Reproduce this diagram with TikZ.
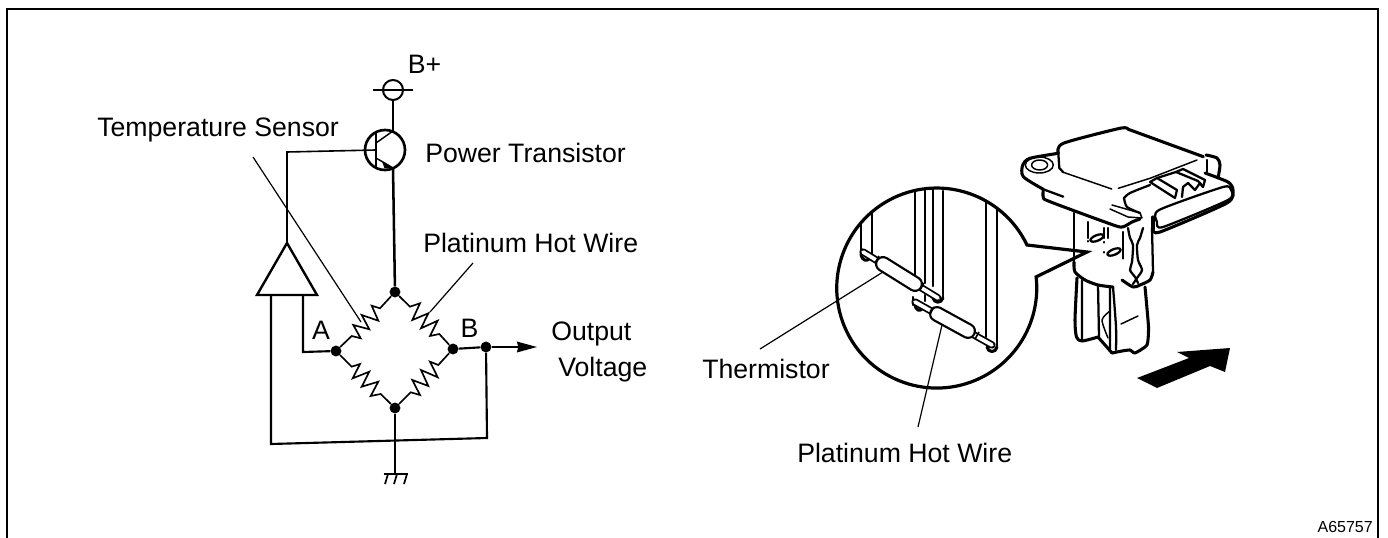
\documentclass[tikz,border=0pt]{standalone}
\usepackage{fontspec}
\setmainfont{Liberation Sans}
\usetikzlibrary{arrows.meta,calc}
\tikzset{
  wire/.style={line width=1.6pt,line join=miter},
  thinl/.style={line width=0.9pt},
  dotn/.style={circle,fill=black,inner sep=0pt,minimum size=8.2pt},
  lbl/.style={font=\fontsize{20}{24}\selectfont,inner sep=0pt},
  ink/.style={line width=1.7pt,line join=round,line cap=round},
  inkthin/.style={line width=1.1pt,line join=round,line cap=round},
  inkthick/.style={line width=2.3pt,line join=round,line cap=round},
  cv/.style={smooth,tension=0.45}
}
\newcommand{\zz}[1]{\draw[line width=1.25pt,line join=miter] #1;}
\newcommand{\capsule}[4]{%
  \draw[line width=5.5pt,line cap=round] #1 -- #2;
  \draw[line width=2.8pt,white,line cap=round] #1 -- #2;
  \draw[line width=12pt,line cap=round] #3 -- #4;
  \draw[line width=8.6pt,white,line cap=round] #3 -- #4;
}
\begin{document}
\begin{tikzpicture}[x=0.75pt,y=-0.75pt]
\useasboundingbox (0,0) rectangle (1388,538);
\fill[white] (0,0) rectangle (1388,538);
\coordinate (fa) at (7,538); \coordinate (fb) at (7,9); \coordinate (fc) at (1378,9); \coordinate (fd) at (1378,538);
\draw[line width=2pt] (fa) -- (fb) -- (fc) -- (fd);

% ---- circuit nodes
\node[dotn] (top) at (395,292) {};
\node[dotn] (left) at (336,351) {};
\node[dotn] (right) at (453,349) {};
\node[dotn] (bot) at (395,408) {};
\node[dotn] (out) at (486,347) {};
\node[circle,draw,line width=1.5pt,minimum size=15pt,inner sep=0pt] (bp) at (393,90) {};
\node[circle,draw,line width=2pt,minimum size=30pt,inner sep=0pt] (tr) at (385,150) {};
\coordinate (bpl) at (373,90); \coordinate (bpr) at (413,90);
\draw[line width=1.1pt] (bpl) -- (bpr);
\coordinate (col) at (393,131); \coordinate (em) at (393,168);
\coordinate (bl) at (376,150); \coordinate (bt) at (376,133); \coordinate (bb) at (376,167);
\coordinate (c1) at (376,143); \coordinate (e1) at (376,158);
\coordinate (fbk) at (287,152);
\draw[wire] (bp) -- (col);
\draw[wire] (bt) -- (bb);
\draw[line width=1.1pt] (c1) -- (col);
\draw[line width=1.1pt] (e1) -- (em);
\fill (394,168.5) -- (382,161) -- (384.5,168.5) -- cycle;
\draw[line width=1.9pt] (em) -- (top);

% op-amp triangle
\coordinate (ap) at (287,243);
\coordinate (al) at (257,295); \coordinate (ar) at (317,295);
\draw[line width=1.8pt,line join=miter] (ap) -- (al) -- (ar) -- cycle;
\draw[line width=1.2pt] (ap) -- (fbk) -- (bl);
\coordinate (ina) at (303,295); \coordinate (inb) at (271,295);
\draw[wire] (ina) -- (303,352) -- (left);
\draw[wire] (inb) -- (271,444) -- (487,438) -- (out);
\draw[wire] (right) -- (out);
\coordinate (oe) at (537,347);
\draw[line width=1.2pt,-{Stealth[length=15pt,width=8pt,inset=1pt]}] (out) -- (oe);

% ground
\coordinate (g) at (395,474);
\draw[wire] (bot) -- (g);
\draw[line width=1.3pt] (383.5,474) -- (408,474);
\draw[line width=1.3pt] (388,474) -- (385,484) (397,474) -- (394,484) (407,474) -- (404,484);

% resistors
\zz{(left) -- (351.7,336) -- (360.7,338.3) -- (353.3,325) -- (369.3,329.3) -- (361.7,315) -- (378.3,320.7) -- (371.7,305.7) -- (380,308.3) -- (top)}
\zz{(top) -- (410,306.7) -- (420,303.3) -- (412.3,320) -- (428.3,313.3) -- (421,328.3) -- (437.7,320.7) -- (430,336) -- (439.3,334) -- (right)}
\zz{(left) -- (351.7,366.7) -- (360,364) -- (352.7,378.3) -- (369.3,371.7) -- (361.7,386.7) -- (378.3,381.7) -- (370.7,396) -- (380.7,394) -- (bot)}
\zz{(right) -- (438.3,365) -- (430,361.7) -- (437.7,377.3) -- (421,370) -- (428.3,386) -- (412.3,380) -- (420,395) -- (410.7,392.3) -- (bot)}

% circuit leaders
\coordinate (l1a) at (253,157); \coordinate (l1b) at (361,322);
\coordinate (l2a) at (473,263); \coordinate (l2b) at (430,312);
\draw[thinl] (l1a) -- (l1b);
\draw[thinl] (l2a) -- (l2b);

% labels
\node[lbl,anchor=west] (tT) at (97,130) {Temperature Sensor};
\node[lbl,anchor=west] (tB) at (407.5,64) {B+};
\node[lbl,anchor=west] (tP) at (425,153) {Power Transistor};
\node[lbl,anchor=west] (tH) at (423,243) {Platinum Hot Wire};
\node[lbl,anchor=center] (tA) at (321,330) {A};
\node[lbl,anchor=center] (tBB) at (469.5,328) {B};
\node[lbl,anchor=west] (tO) at (551,334) {Output};
\node[lbl,anchor=west] (tV) at (558,370) {Voltage};
\node[lbl,anchor=west] (tTh) at (702,369) {Thermistor};
\node[lbl,anchor=west] (tH2) at (797,453) {Platinum Hot Wire};
\node[font=\fontsize{12}{14}\selectfont,inner sep=0pt,anchor=east] (tId) at (1373,527) {A65757};

% ---- magnifier interior
\draw[ink] (861,223) -- (861,251) (872,212) -- (872,256);
\draw[ink] (915,190.5) -- (915,276) (925,189) -- (925,283) (933,189) -- (933,286) (943,191) -- (943,298);
\draw[ink] (986,201) -- (986,337) (997,208) -- (997,347);
\draw[ink] (913,297) -- (913,305) (925,295) -- (925,301);
\draw[inkthick] (861,254) .. controls (862,261) and (867,262) .. (870,258);
\draw[inkthick] (933,298) .. controls (934,303) and (941,304) .. (943,298);
\draw[inkthick] (915,303) .. controls (915,311) and (920,312) .. (923,308);
\draw[inkthick] (987,347) .. controls (988,353) and (996,353) .. (997,347);
\capsule{(863,252)}{(938,298)}{(883,264)}{(915,284)}
\capsule{(915,302)}{(992,345)}{(937,314)}{(968,331)}
\draw[line width=1.2pt] (875,263) -- (879,256) (920,290) -- (924,283);
\draw[line width=1.2pt] (930,314) -- (934,307) (975,339) -- (979,332);

% leaders to the magnifier
\coordinate (l3a) at (760,349); \coordinate (l3b) at (883,272);
\coordinate (l4a) at (918,427); \coordinate (l4b) at (942,325);
\draw[thinl] (l3a) -- (l3b);
\draw[thinl] (l4a) -- (l4b);

% magnifier circle with callout
\draw[line width=2.4pt,line join=miter,miter limit=20] (1027,245) arc[start angle=-25.5,end angle=-366.4,radius=100] -- (1087,252) -- cycle;

% ---- sensor body
\draw[inkthick] plot[cv] coordinates {(1058.3,153.3) (1063.3,143.3) (1120,128.3) (1128.3,129.3)} -- (1203.3,156.7);
\draw[ink] (1058.3,153.3) -- (1059.3,168) -- (1063.3,172.3);
\draw[inkthin] (1063.3,172.3) -- (1111.7,189) (1118.3,188.3) -- (1150,178.3) -- (1197,160);
\draw[inkthick] plot[cv] coordinates {(1058.3,153.3) (1030,158.3) (1022.7,165) (1023.3,176.7) (1043.3,189.3)};
\draw[ink] (1043.3,189.3) -- (1063.3,196.7);
\draw[inkthick] plot[cv] coordinates {(1043.3,189.3) (1043.3,197.3) (1050,201.7) (1113.3,225) (1123.3,226.7) (1132,222) (1140,219)};
\draw[inkthin] (1039.3,165) ellipse[x radius=14,y radius=8];
\draw[inkthin] (1039.6,165) ellipse[x radius=8,y radius=5];
\draw[inkthick] plot[cv] coordinates {(1206,155) (1217,158) (1220,165) (1218,178)};
\draw[ink] (1207,160) -- (1207,173);
% connector
\draw[ink] plot[cv] coordinates {(1124,198) (1130,193) (1150,185)};
\draw[ink] plot[cv] coordinates {(1124,198) (1127,207) (1140,213)};
\draw[inkthick] (1153,217) -- (1153,229);
\draw[inkthick] plot[smooth,tension=0.4] coordinates {(1153,229) (1160,232) (1227,203) (1233,190) (1228,182) (1205,173)};
\draw[ink] plot[smooth cycle,tension=0.4] coordinates {(1157,222) (1159,210) (1223,187) (1231,190) (1228,200) (1163,227)};
\draw[ink] (1150,182) -- (1157,178) -- (1177,190) -- (1175,198) -- cycle;
\draw[ink] (1176,172) -- (1183,169) -- (1205,180) -- (1203,187);
\draw[ink] (1176,172) -- (1198,181) -- (1203,187);
\draw[ink] (1157,178) -- (1176,172);
\draw[ink] (1182,197) -- (1183,187) -- (1188,183) -- (1195,190) -- (1200,183) -- (1203,187);
\draw[inkthin] (1110,209) -- (1128,217) -- (1142,218) -- (1140,213) -- (1112,205);
% neck
\draw[ink] (1074,213) -- (1074,262);
\draw[inkthick] plot[cv] coordinates {(1074,262) (1075,272) (1085,280) (1098,285) (1113,287)};
\draw[ink] (1152,228) -- (1153,272);
\draw[inkthick] plot[cv] coordinates {(1153,272) (1150,280) (1140,285) (1133,287) (1122,280)};
\draw[ink] plot[cv] coordinates {(1128,228) (1130,238) (1133,245) (1132,262) (1130,270) (1135,277) (1138,283)};
\draw[ink] plot[cv] coordinates {(1143,228) (1140,238) (1137,245) (1138,260) (1142,270) (1137,278) (1133,284)};
\draw[ink] (1123,232) -- (1123,258);
\draw[ink] (1088,222) -- (1088,238) (1104,228) -- (1104,238) (1108,228) -- (1108,238);
\draw[ink,rotate around={22:(1097,238)}] (1097,238) ellipse[x radius=7,y radius=2.8];
\draw[ink,rotate around={22:(1114,252)}] (1114,252) ellipse[x radius=7,y radius=2.8];
\draw[line width=1.6pt,line cap=round] (1088,241) -- (1088,241.5) (1104,242) -- (1104,242.5) (1104,252) -- (1104,252.5) (1123,258) -- (1123,258.5);
% lower tube
\draw[inkthick] plot[cv] coordinates {(1077,278) (1075,320) (1076.5,337) (1082,341) (1098,337)} -- (1112,353);
\draw[inkthick] plot[smooth,tension=0.3] coordinates {(1112,353) (1122,351) (1130,350) (1135,353) (1147,345) (1148.5,327) (1145,287)};
\draw[ink] (1082,280) -- (1082,340) (1098,285) -- (1099,337) (1110,287) -- (1110,350);
\draw[ink] plot[cv] coordinates {(1113,287) (1116,327) (1116,350)};
\draw[inkthin] plot[cv] coordinates {(1110,311) (1102,320) (1108,338)};
\draw[inkthin] (1121,324) -- (1138,316);
% flow arrow
\fill (1137,378) -- (1157,388) -- (1210,366) -- (1225,372) -- (1230,348) -- (1177,352) -- (1189,358) -- cycle;
\end{tikzpicture}
\end{document}
